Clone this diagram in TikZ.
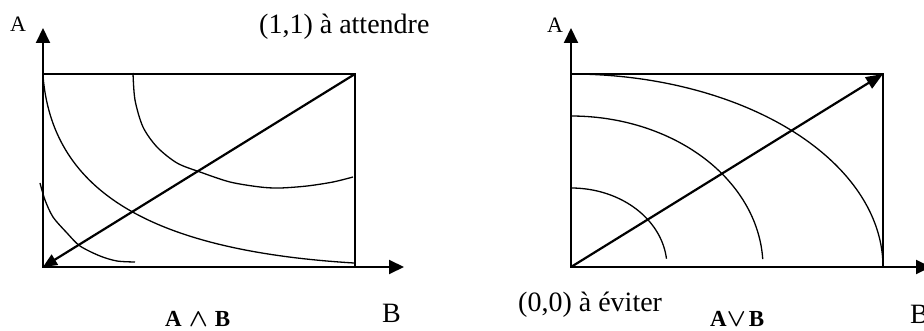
\documentclass[tikz,border=0pt]{standalone}
\usepackage{fontspec}
\setmainfont{Liberation Serif}
\usetikzlibrary{arrows.meta}
\tikzset{
  axisline/.style={line width=2pt,-{Triangle[length=15pt,width=14pt]}},
  framebox/.style={line width=1.5pt},
  curveline/.style={line width=1.3pt},
  diagline/.style={line width=2.2pt},
  biglabel/.style={inner sep=0pt,anchor=base west,font=\fontsize{28}{30}\selectfont},
  smalllabel/.style={inner sep=0pt,anchor=base west,font=\fontsize{22}{24}\selectfont},
  boldlabel/.style={inner sep=0pt,anchor=base west,font=\fontsize{23}{25}\selectfont\bfseries\boldmath},
}
\begin{document}
\begin{tikzpicture}[x=1pt,y=-1pt]
\useasboundingbox (0,0) rectangle (924,331);
% ---------- left diagram ----------
\coordinate (Lo) at (43,267);
\coordinate (Ltop) at (43,28);
\coordinate (Lright) at (404,267);
\coordinate (Ltl) at (43,74);
\coordinate (Lbr) at (355,267);
\coordinate (Ltr) at (355,74);
\draw[framebox] (Ltl) rectangle (Lbr);
\draw[axisline] (Lo) -- (Ltop);
\draw[axisline] (Lo) -- (Lright);
\draw[diagline,-{Triangle[length=14pt,width=12pt]}] (Ltr) -- (Lo);
\draw[curveline] (43,76) .. controls (52,185) and (140,250) .. (354,263);
\draw[curveline] plot[smooth] coordinates {(133,73) (135,100) (143,127) (157,147) (177,163) (200,172) (230,182) (260,187) (280,188) (307,186) (333,182) (353,177)};
\draw[curveline] plot[smooth] coordinates {(40,183) (45,200) (53,217) (67,233) (80,246) (100,256) (117,261) (135,262)};
\node[smalllabel] (LA) at (10,32) {A};
\node[biglabel] (Latt) at (259,34) {(1,1) à attendre};
\node[boldlabel] (Land) at (165,326) {A\hspace{7pt}$\wedge$\hspace{7pt}B};
\node[biglabel] (LB) at (382,322) {B};
% ---------- right diagram ----------
\coordinate (Ro) at (571,267);
\coordinate (Rtop) at (571,28);
\coordinate (Rright) at (931,267);
\coordinate (Rtl) at (571,74);
\coordinate (Rbr) at (883,267);
\coordinate (Rtr) at (883,74);
\draw[framebox] (Rtl) rectangle (Rbr);
\draw[axisline] (Ro) -- (Rtop);
\draw[axisline] (Ro) -- (Rright);
\draw[diagline,-{Triangle[length=17pt,width=13pt]}] (Ro) -- (Rtr);
\draw[curveline] plot[domain=90:0,samples=80] ({571+312*cos(\x)},{267-193*sin(\x)});
\draw[curveline] plot[domain=90:3,samples=70] ({571+192*cos(\x)},{267-151*sin(\x)});
\draw[curveline] plot[domain=90:6,samples=50] ({571+96*cos(\x)},{267-79*sin(\x)});
\node[smalllabel] (RA) at (547,33) {A};
\node[biglabel] (Rev) at (518,312) {(0,0) à éviter};
\node[boldlabel] (Ror) at (710,326) {A$\vee$\hspace{3pt}B};
\node[biglabel] (RB) at (910,323) {B};
\end{tikzpicture}
\end{document}
